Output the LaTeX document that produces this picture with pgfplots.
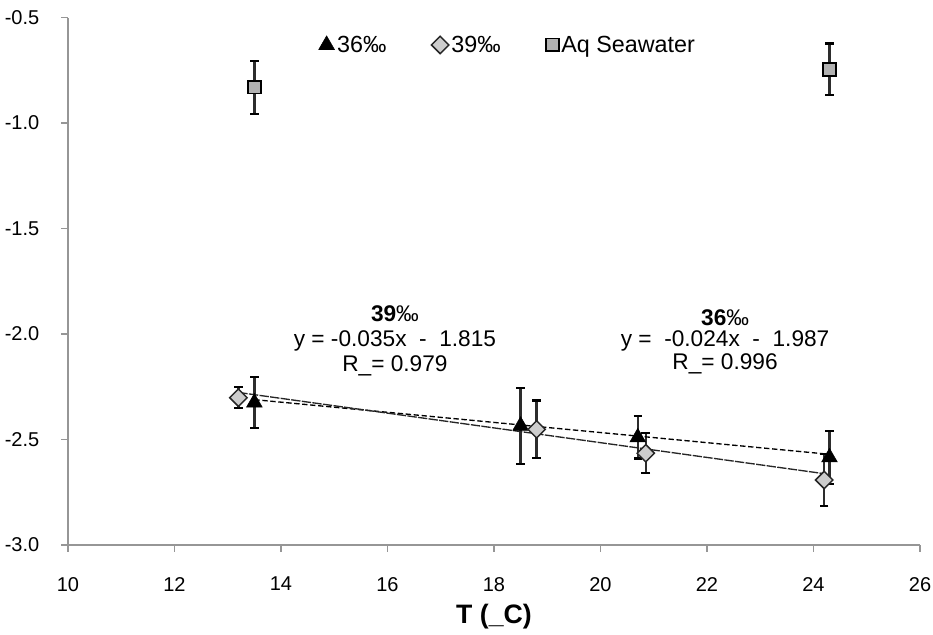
\documentclass[border=0pt]{standalone}
\usepackage{fontspec}
\setmainfont{Liberation Sans}
\usepackage{pgfplots}
\pgfplotsset{compat=1.18}

\definecolor{axisgray}{RGB}{150,150,150}
\definecolor{diamondfill}{RGB}{205,205,205}
\definecolor{squarefill}{RGB}{178,178,178}
\definecolor{barcol}{RGB}{45,45,45}

\pgfplotsset{
  errstyle/.style={
    error bars/.cd, y dir=both, y explicit,
    error bar style={line width=1.7pt, barcol},
    error mark options={rotate=90, line width=1.6pt, mark size=3.2pt, black}
  }
}

\begin{document}
\begin{tikzpicture}
\useasboundingbox (-51pt,-67.5pt) rectangle (648.75pt,408.75pt);
\begin{axis}[
  at={(0,0)}, anchor=south west,
  scale only axis,
  width=639pt, height=395.6pt,
  xmin=10, xmax=26, ymin=-3, ymax=-0.5,
  xtick={10,12,14,16,18,20,22,24,26},
  ytick={-3,-2.5,-2,-1.5,-1,-0.5},
  axis lines*=left,
  axis line style={axisgray, line width=1.3pt},
  tick style={axisgray, line width=1pt},
  tick align=outside,
  major tick length=5pt,
  clip=false,
  /pgf/number format/assume math mode=true,
  ticklabel style={font=\fontsize{15}{17}\selectfont},
  yticklabel style={xshift=-13pt,
    /pgf/number format/fixed,
    /pgf/number format/fixed zerofill,
    /pgf/number format/precision=1},
  xticklabel style={yshift=-15.5pt},
  xlabel={\textbf{T (\_C)}},
  xlabel style={font=\fontsize{20}{23}\selectfont, yshift=-3pt},
  legend columns=3,
  legend style={
    at={(0.294,0.948)}, anchor=west,
    draw=none, fill=none, inner sep=0pt,
    font=\fontsize{17.5}{20}\selectfont,
    /tikz/every even column/.append style={column sep=31.8pt}
  },
]

% 36 per mille series
\addplot[only marks, mark=triangle*, mark size=6.8pt,
  mark options={fill=black, draw=black}, errstyle]
  coordinates {
    (13.5,-2.325) +- (0,0.122)
    (18.5,-2.435) +- (0,0.180)
    (20.7,-2.490) +- (0,0.100)
    (24.3,-2.585) +- (0,0.127)
  };
\addlegendentry{36‰}

% 39 per mille series
\addplot[only marks, mark=square*, mark size=4.6pt,
  mark options={rotate=45, fill=diamondfill, draw=black!85, line width=1.1pt}, errstyle]
  coordinates {
    (13.2,-2.302) +- (0,0.050)
    (18.8,-2.452) +- (0,0.137)
    (20.85,-2.565) +- (0,0.094)
    (24.2,-2.692) +- (0,0.123)
  };
\addlegendentry{39‰}

% aquarium seawater
\addplot[only marks, mark=square*, mark size=4.8pt,
  mark options={fill=squarefill, draw=black, line width=1.4pt}, errstyle]
  coordinates {
    (13.5,-0.830) +- (0,0.126)
    (24.3,-0.745) +- (0,0.122)
  };
\addlegendentry{Aq Seawater}

% linear trends
\addplot[forget plot, black, line width=1pt, dash pattern=on 4pt off 2pt]
  coordinates {(13.5,-2.311) (24.3,-2.5702)};
\addplot[forget plot, black!85, line width=1pt, dash pattern=on 7pt off 1pt]
  coordinates {(13.2,-2.277) (24.2,-2.662)};

% regression labels
\node[font=\fontsize{17}{19}\selectfont] at (axis cs:16.14,-1.905) {\textbf{39}‰};
\node[font=\fontsize{17}{19}\selectfont] at (axis cs:16.14,-2.035) {y = -0.035x \ - \ 1.815};
\node[font=\fontsize{17}{19}\selectfont] at (axis cs:16.14,-2.150) {R\_= 0.979};
\node[font=\fontsize{17}{19}\selectfont] at (axis cs:22.34,-1.925) {\textbf{36}‰};
\node[font=\fontsize{17}{19}\selectfont] at (axis cs:22.34,-2.035) {y = \ -0.024x \ - \ 1.987};
\node[font=\fontsize{17}{19}\selectfont] at (axis cs:22.34,-2.140) {R\_= 0.996};
\end{axis}
\end{tikzpicture}
\end{document}
